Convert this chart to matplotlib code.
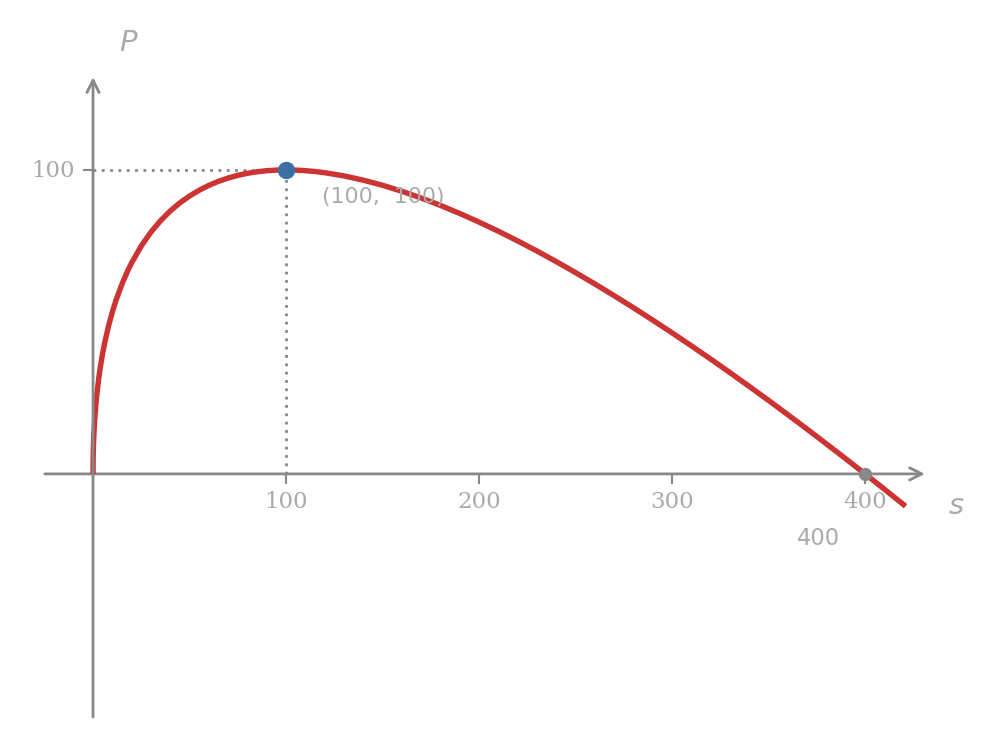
import matplotlib.pyplot as plt

# curve P(s)
s_vals = [0, 0.05, 0.1, 0.2, 0.3, 0.5, 0.75, 1, 1.5, 2, 3, 4, 5, 6, 8, 10, 12,
          15, 18, 20, 25, 30, 35, 40, 45, 50, 55, 60, 65, 70, 75, 80, 85, 90,
          95, 100, 105, 110, 115, 120, 130, 140, 150, 160, 170, 180, 190, 200,
          210, 220, 230, 240, 250, 260, 270, 280, 290, 300, 310, 320, 330, 340,
          350, 360, 370, 380, 390, 400, 410, 421]
p_vals = [0, 4.42, 6.22, 8.74, 10.65, 13.64, 16.57, 19.0, 22.99, 26.28, 31.64,
          36.0, 39.72, 42.99, 48.57, 53.25, 57.28, 62.46, 66.85, 69.44, 75.0,
          79.54, 83.32, 86.49, 89.16, 91.42, 93.32, 94.92, 96.25, 97.33, 98.21,
          98.89, 99.39, 99.74, 99.94, 100.0, 99.94, 99.76, 99.48, 99.09, 98.04,
          96.64, 94.95, 92.98, 90.77, 88.33, 85.68, 82.84, 79.83, 76.65, 73.32,
          69.84, 66.23, 62.49, 58.63, 54.66, 50.59, 46.41, 42.14, 37.77, 33.32,
          28.78, 24.17, 19.47, 14.71, 9.87, 4.97, 0.0, -5.03, -10.63]

peak = (100, 100)
root = (400, 0)
x_ticks = [100, 200, 300, 400]
y_ticks = [100]

gray = "#888888"
label_gray = "#aaaaaa"

fig = plt.figure(figsize=(9.99, 7.49), dpi=100)
ax = fig.add_axes([0, 0, 1, 1])
ax.set_xlim(-48.2, 469.4)
ax.set_ylim(-90.5, 155.9)
ax.axis("off")

# axes with arrows
ax.annotate("", xy=(431, 0), xytext=(-25, 0), zorder=2,
            arrowprops=dict(arrowstyle="->", color=gray, lw=2, mutation_scale=22,
                            shrinkA=0, shrinkB=0))
ax.annotate("", xy=(0, 130.5), xytext=(0, -80), zorder=4,
            arrowprops=dict(arrowstyle="->", color=gray, lw=2, mutation_scale=22,
                            shrinkA=0, shrinkB=0))

# tick marks and labels
for t in x_ticks:
    ax.plot([t, t], [0, -3], color=gray, lw=1.5)
    ax.text(t, -9.3, str(t), ha="center", va="center", fontsize=16.5,
            family="DejaVu Serif", color=label_gray)
for t in y_ticks:
    ax.plot([0, -4.7], [t, t], color=gray, lw=1.5)
    ax.text(-9.5, t - 0.5, str(t), ha="right", va="center", fontsize=16.5,
            family="DejaVu Serif", color=label_gray)

# guide lines to the peak
ax.plot([0, peak[0]], [peak[1], peak[1]], color=gray, lw=2, ls=(0, (1, 2)))
ax.plot([peak[0], peak[0]], [0, peak[1]], color=gray, lw=2, ls=(0, (1, 2)))

ax.plot(s_vals, p_vals, color="#cc3333", lw=3.9, solid_capstyle="butt",
        solid_joinstyle="round", zorder=3)

ax.plot(*peak, "o", color="#3a6ea5", ms=11.5, zorder=5)
ax.plot(*root, "o", color=gray, ms=8.5, zorder=5)

ax.text(118.5, 91, "(100,  100)", ha="left", va="center", fontsize=15.8,
        color=label_gray)
ax.text(376, -21.4, "400", ha="center", va="center", fontsize=16.3,
        color=label_gray)

ax.text(18, 141.6, "P", ha="center", va="center", fontsize=21, style="italic",
        color=label_gray)
ax.text(447, -10.5, "s", ha="center", va="center", fontsize=21, style="italic",
        color=label_gray)

fig.savefig("out.png", dpi=100)
